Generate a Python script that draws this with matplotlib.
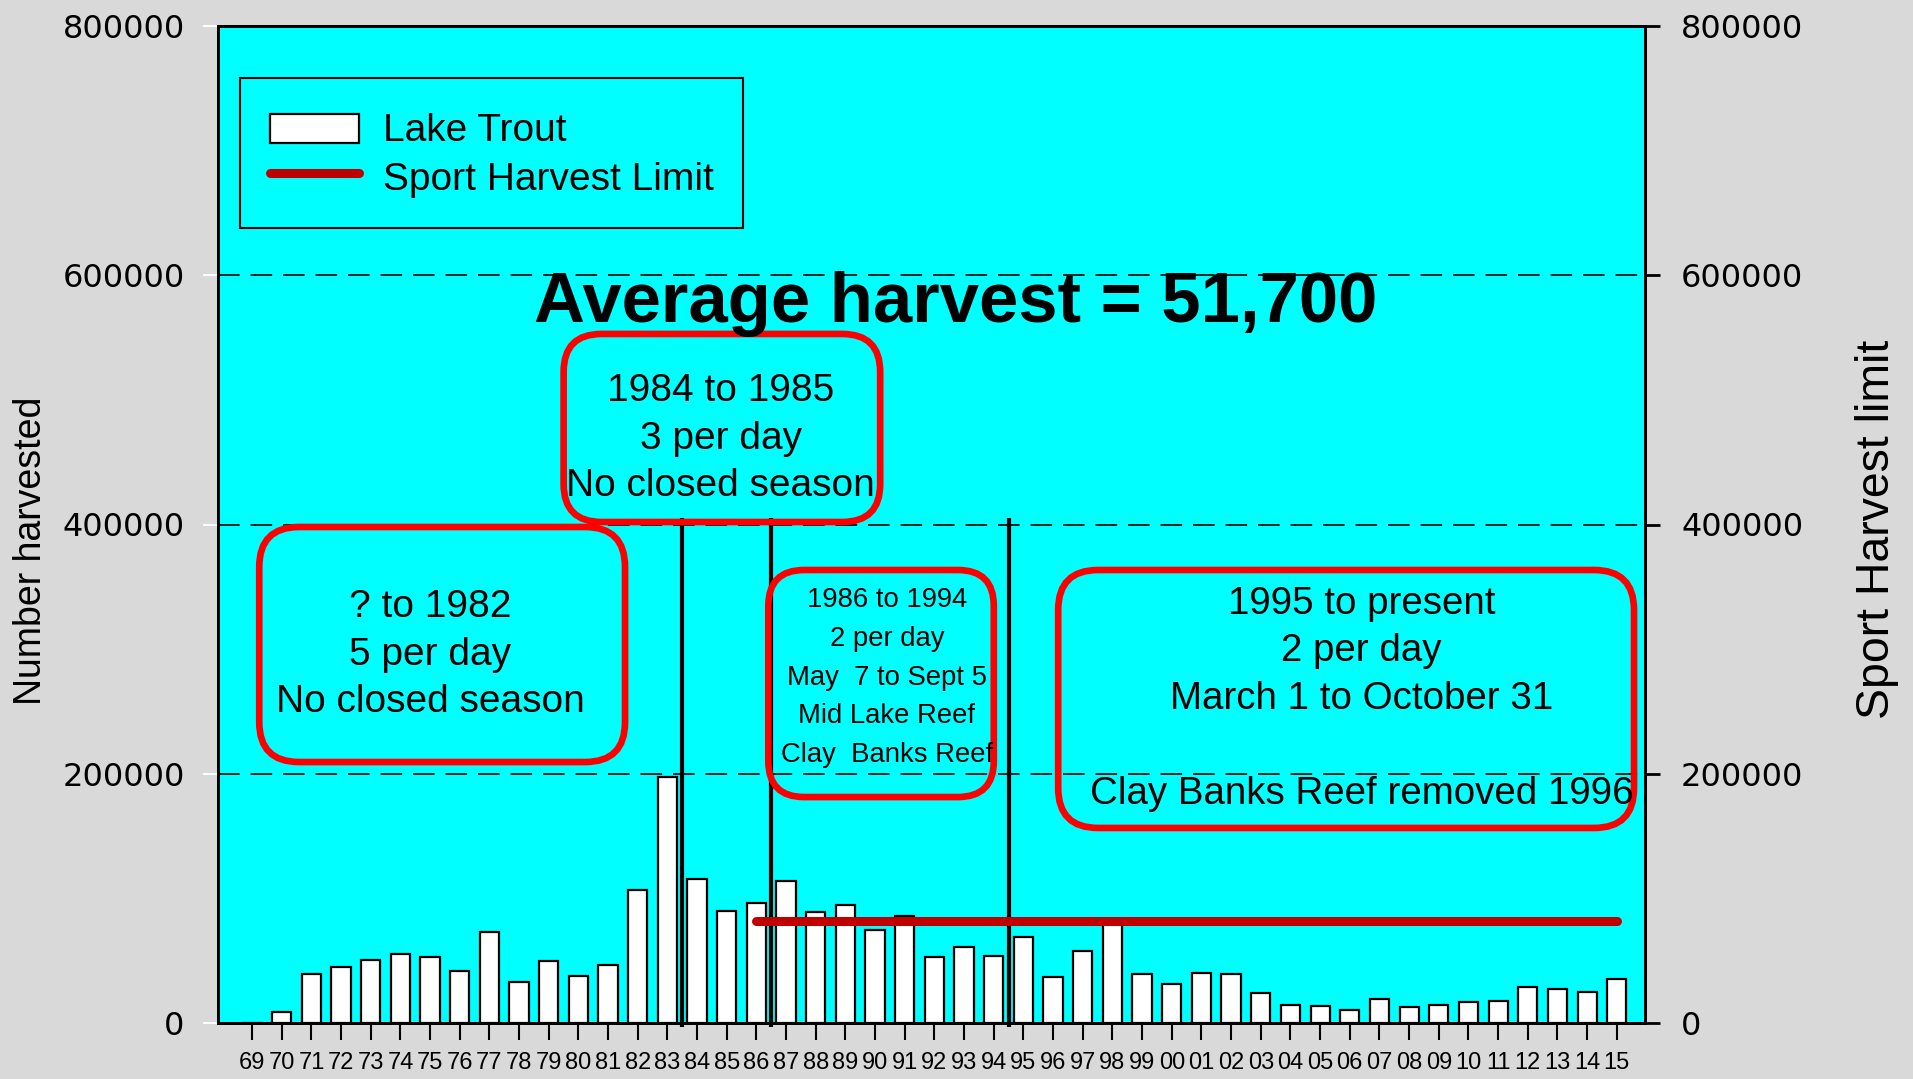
import matplotlib
matplotlib.use("Agg")
import matplotlib.pyplot as plt
from matplotlib import font_manager
from matplotlib.patches import FancyBboxPatch, Patch, Rectangle
from matplotlib.lines import Line2D
from matplotlib.legend_handler import HandlerPatch

plt.rcParams['font.family'] = ['Liberation Sans', 'DejaVu Sans']

# ---------------- data ----------------
years = ['69', '70', '71', '72', '73', '74', '75', '76', '77', '78', '79', '80',
         '81', '82', '83', '84', '85', '86', '87', '88', '89', '90', '91', '92',
         '93', '94', '95', '96', '97', '98', '99', '00', '01', '02', '03', '04',
         '05', '06', '07', '08', '09', '10', '11', '12', '13', '14', '15']
lake_trout = [0, 8800, 39300, 44900, 50600, 55100, 52700, 42000, 73300, 33100,
              49500, 38000, 46500, 106500, 197400, 115500, 89900, 96500, 113700,
              89100, 94400, 74900, 85900, 52700, 61000, 53800, 69000, 36900,
              58000, 79500, 39600, 31000, 40100, 39600, 23800, 14200, 13900,
              10400, 19300, 12600, 14700, 17100, 17700, 28900, 27300, 25100, 35500]
limit_years = ['86', '15']
limit_values = [82000, 82000]
# last year before each regulation change (vertical divider after it)
change_after = ['83', '86', '94']
yticks = [0, 200000, 400000, 600000, 800000]
title = "Average harvest = 51,700"
box_texts = [
    "? to 1982\n5 per day\nNo closed season",
    "1984 to 1985\n3 per day\nNo closed season",
    "1986 to 1994\n2 per day\nMay  7 to Sept 5\nMid Lake Reef\nClay  Banks Reef",
    "1995 to present\n2 per day\nMarch 1 to October 31\n\nClay Banks Reef removed 1996",
]

# ---------------- figure ----------------
W, H = 1913, 1079
fig = plt.figure(figsize=(W / 100, H / 100), dpi=100, facecolor='#D9D9D9')
L, R, T, B = 218, 1645, 26, 1023
ax = fig.add_axes([L / W, 1 - B / H, (R - L) / W, (B - T) / H])
ax.set_facecolor('#00FFFF')

x = list(range(len(years)))
idx = {y: i for i, y in enumerate(years)}

ax.bar(x, lake_trout, width=0.65, color='white', edgecolor='black',
       linewidth=1.6, zorder=3)

# x tick font: condensed if available
try:
    font_manager.findfont('Liberation Sans Narrow', fallback_to_default=False)
    xfam, xsize = 'Liberation Sans Narrow', 19
except Exception:
    xfam, xsize = 'Liberation Sans', 17

ax.set_xlim(-1.15, len(years) - 0.05)
ax.set_ylim(0, 800000)
ax.set_yticks(yticks)
ax.set_yticklabels([str(v) for v in yticks], fontfamily='DejaVu Sans', fontsize=23)
ax.set_xticks(x)
ax.set_xticklabels(years, fontsize=xsize, fontfamily=xfam)
ax.tick_params(axis='y', direction='out', length=11, width=1.5, color='white', pad=13)
ax.tick_params(axis='x', direction='out', length=12, width=1.5, color='black', pad=9)

ax.grid(axis='y', color='black', linewidth=1.2, linestyle=(0, (13, 6.5)), zorder=1)
ax.set_axisbelow(True)

for s in ax.spines.values():
    s.set_linewidth(2)
    s.set_color('black')

# regulation change dividers
for yname in change_after:
    xv = idx[yname] + 0.5
    ax.plot([xv, xv], [-3000, 405000], color='black', linewidth=3, zorder=4,
            solid_capstyle='butt', clip_on=False)

# sport harvest limit
ax.plot([idx[v] for v in limit_years], limit_values, color='#C00000',
        linewidth=6.5, solid_capstyle='round', zorder=5)

# right axis
ax2 = ax.twinx()
ax2.set_ylim(0, 800000)
ax2.set_yticks(yticks)
ax2.set_yticklabels([str(v) for v in yticks], fontfamily='DejaVu Sans', fontsize=23)
ax2.tick_params(axis='y', direction='out', length=11, width=2, color='black', pad=15)
for s in ax2.spines.values():
    s.set_linewidth(2)

# axis labels
fig.text(31 / W, 1 - 551 / H, "Number harvested", rotation=90, ha='center',
         va='center', fontsize=27)
fig.text(1877 / W, 1 - 529 / H, "Sport Harvest limit", rotation=90, ha='center',
         va='center', fontsize=33.4)

# title
ax.text(23.7, 577000, title, ha='center', va='center', fontsize=50.9,
        fontweight='bold', zorder=7)

# rounded boxes (data coords)
fig.canvas.draw()
p0 = ax.transData.transform((0, 0))
p1 = ax.transData.transform((1, 100000))
px_per_x = p1[0] - p0[0]
px_per_y = (p1[1] - p0[1]) / 100000
aspect = px_per_x / px_per_y

boxes = [  # x0, x1, y0, y1, corner radius px
    (0.24, 12.57, 209400, 398000, 40),
    (10.5, 21.17, 402000, 552900, 38),
    (17.4, 25.0, 181300, 363500, 36),
    (27.17, 46.58, 156500, 363500, 40),
]
for (x0, x1, y0, y1, rad) in boxes:
    bp = FancyBboxPatch((x0, y0), x1 - x0, y1 - y0,
                        boxstyle=f"round,pad=0,rounding_size={rad / px_per_x}",
                        mutation_aspect=aspect, facecolor='none',
                        edgecolor='#FF0000', linewidth=4.8, zorder=6)
    ax.add_patch(bp)

ax.text(6.0, 295600, box_texts[0], ha='center', va='center', fontsize=28,
        linespacing=1.415, zorder=7)
ax.text(15.8, 469000, box_texts[1], ha='center', va='center', fontsize=28,
        linespacing=1.41, zorder=7)
ax.text(21.4, 277200, box_texts[2], ha='center', va='center', fontsize=19.8,
        linespacing=1.645, zorder=7)
ax.text(37.4, 260300, box_texts[3], ha='center', va='center', fontsize=27.7,
        linespacing=1.41, zorder=7)

# legend
def small_rect(legend, orig_handle, xdescent, ydescent, width, height, fontsize):
    h = 0.75 * fontsize
    return Rectangle((-xdescent, -ydescent + (height - h) / 2), width, h)

handles = [Patch(facecolor='white', edgecolor='black', linewidth=1.6),
           Line2D([0], [0], color='#C00000', linewidth=6.5, solid_capstyle='round')]
leg = ax.legend(handles, ['Lake Trout', 'Sport Harvest Limit'],
                handler_map={Patch: HandlerPatch(patch_func=small_rect)},
                loc='upper left', bbox_to_anchor=(22 / 1427, (1023 - 78) / 997),
                borderaxespad=0, fontsize=28, frameon=True, fancybox=False,
                edgecolor='black', facecolor='#00FFFF', framealpha=1,
                borderpad=0.76, labelspacing=0.18, handlelength=2.29,
                handleheight=1.26, handletextpad=0.62)
leg.get_frame().set_linewidth(1.5)
leg.set_zorder(8)

fig.savefig('out.png', dpi=100, facecolor=fig.get_facecolor())
